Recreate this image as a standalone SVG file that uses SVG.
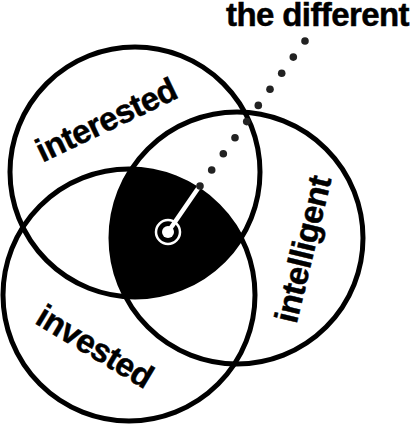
<svg xmlns="http://www.w3.org/2000/svg" width="413" height="425" viewBox="0 0 413 425">
<style>
.ring{fill:none;stroke:#000;stroke-width:5}
.lbl{font-family:"Liberation Sans",Arial,sans-serif;font-weight:bold;font-size:33px;fill:#000;stroke:#000;stroke-width:0.5;letter-spacing:-0.6px}
.dot{fill:#222}
</style>
<defs>
<clipPath id="cA"><circle cx="129" cy="295" r="126"/></clipPath>
<clipPath id="cB"><circle cx="237" cy="238" r="126"/></clipPath>
</defs>
<rect width="413" height="425" fill="#fff"/>
<g id="core">
<g clip-path="url(#cA)"><g clip-path="url(#cB)"><circle cx="135" cy="172" r="125" fill="#000"/></g></g>
</g>
<g id="interested">
<circle class="ring" cx="135" cy="172" r="125"/>
<text class="lbl" text-anchor="middle" transform="translate(111,130) rotate(-25.5)">interested</text>
</g>
<g id="invested">
<circle class="ring" cx="129" cy="295" r="126"/>
<text class="lbl" text-anchor="middle" transform="translate(89,356) rotate(31)">invested</text>
</g>
<g id="intelligent">
<circle class="ring" cx="237" cy="238" r="126"/>
<text class="lbl" text-anchor="middle" transform="translate(314,252) rotate(-76.5)">intelligent</text>
</g>
<g id="connectors">
<line x1="168" y1="232" x2="199" y2="187" stroke="#fff" stroke-width="4.5"/>
<g class="dot">
<circle cx="200" cy="186" r="3.8"/>
<circle cx="211.7" cy="170" r="3.8"/>
<circle cx="223.3" cy="153.8" r="3.8"/>
<circle cx="235" cy="137.7" r="3.8"/>
<circle cx="246.7" cy="121.6" r="3.8"/>
<circle cx="258.3" cy="105.4" r="3.8"/>
<circle cx="270" cy="89.3" r="3.8"/>
<circle cx="281.7" cy="73.2" r="3.8"/>
<circle cx="293.3" cy="57.1" r="3.8"/>
<circle cx="305" cy="41" r="3.8"/>
</g>
</g>
<g id="center">
<circle cx="168" cy="232" r="12" fill="none" stroke="#fff" stroke-width="2.5"/>
<circle cx="168" cy="232" r="6" fill="#fff"/>
</g>
<g id="the-different">
<text class="lbl" x="226" y="26">the different</text>
</g>
</svg>
